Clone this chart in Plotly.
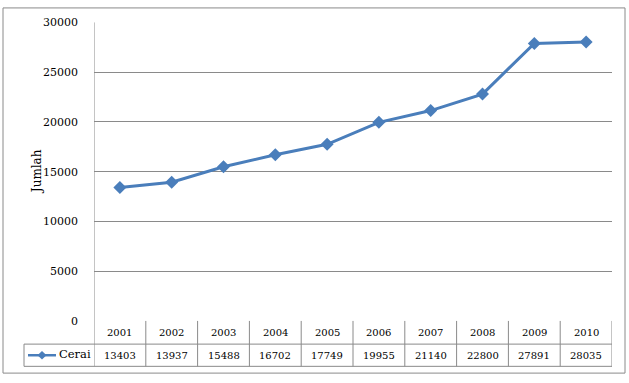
import plotly.graph_objects as go

years = ["2001", "2002", "2003", "2004", "2005", "2006", "2007", "2008", "2009", "2010"]
cerai = [13403, 13937, 15488, 16702, 17749, 19955, 21140, 22800, 27891, 28035]
series_name = "Cerai"
y_title = "Jumlah"
y_ticks = [0, 5000, 10000, 15000, 20000, 25000, 30000]
y_tick_text = ["0", "5000", "10000", "15000", "20000", "25000", "30000"]

W, H = 629, 383
def px(x):
    return x / W
def py(y):
    return (H - y) / H

FONT = "DejaVu Serif"
GRID = "#8a8a8a"
BLUE = "#4A7EBB"

PL, PR, PT, PB = 94, 612, 17, 326
ROW1, ROW2 = 350, 373

fig = go.Figure()
fig.add_trace(go.Scatter(
    x=list(range(len(years))), y=cerai, mode="lines+markers", name=series_name,
    line=dict(color=BLUE, width=3),
    marker=dict(symbol="diamond", size=10, color=BLUE),
    showlegend=False,
))

shapes = []
shapes.append(dict(type="rect", xref="paper", yref="paper", x0=px(3), x1=px(625), y0=py(380), y1=py(2),
                   line=dict(color=GRID, width=1)))
for yy in (ROW1, ROW2):
    shapes.append(dict(type="line", xref="paper", yref="paper", x0=px(24), x1=px(PR), y0=py(yy), y1=py(yy),
                       line=dict(color=GRID, width=1)))
for i in range(len(years) + 1):
    top = PT if i == 0 else PB
    shapes.append(dict(type="line", xref="x", yref="paper", x0=i - 0.5, x1=i - 0.5, y0=py(top), y1=py(ROW2),
                       line=dict(color=GRID, width=1)))
shapes.append(dict(type="line", xref="paper", yref="paper", x0=px(24), x1=px(24), y0=py(ROW1), y1=py(ROW2),
                   line=dict(color=GRID, width=1)))
ly = (ROW1 + ROW2) / 2
shapes.append(dict(type="line", xref="paper", yref="paper", x0=px(28), x1=px(56), y0=py(ly), y1=py(ly),
                   line=dict(color=BLUE, width=2.5)))
cx, cy, d = 42, ly, 4.5
shapes.append(dict(type="path", xref="paper", yref="paper",
                   path=f"M {px(cx - d)} {py(cy)} L {px(cx)} {py(cy - d)} L {px(cx + d)} {py(cy)} L {px(cx)} {py(cy + d)} Z",
                   fillcolor=BLUE, line=dict(color=BLUE, width=0)))

annotations = []
for i, (yr, v) in enumerate(zip(years, cerai)):
    annotations.append(dict(x=i, y=py((PB + ROW1) / 2), xref="x", yref="paper", text=yr, showarrow=False,
                            font=dict(family=FONT, size=10, color="#000"), yanchor="middle"))
    annotations.append(dict(x=i, y=py((ROW1 + ROW2) / 2), xref="x", yref="paper", text=str(v), showarrow=False,
                            font=dict(family=FONT, size=10, color="#000"), yanchor="middle"))
annotations.append(dict(x=px(57), y=py(ly - 1), xref="paper", yref="paper", text=series_name, showarrow=False,
                        xanchor="left", yanchor="middle", font=dict(family=FONT, size=11.5, color="#000")))
annotations.append(dict(x=px(28), y=py(172), xref="paper", yref="paper", text=y_title, textangle=-90,
                        showarrow=False, font=dict(family=FONT, size=12, color="#000")))

fig.update_layout(
    width=W, height=H, autosize=False,
    margin=dict(l=0, r=0, t=0, b=0),
    paper_bgcolor="white", plot_bgcolor="white",
    showlegend=False,
    xaxis=dict(domain=[px(PL), px(PR)], range=[-0.5, len(years) - 0.5], visible=False),
    yaxis=dict(domain=[py(PB), py(PT)], range=[0, 30000], tickvals=y_ticks, ticktext=y_tick_text,
               showgrid=True, gridcolor=GRID, gridwidth=1, zeroline=False,
               showline=False, ticks="", ticklabelstandoff=15,
               tickfont=dict(family=FONT, size=11, color="#000")),
    shapes=shapes, annotations=annotations,
)
fig.write_html(
    "out.html",
    config={"displayModeBar": False},
    post_script=(
        "document.documentElement.style.margin='0';document.documentElement.style.overflow='hidden';"
        "document.body.style.margin='0';document.body.style.padding='0';document.body.style.overflow='hidden';"
    ),
)
